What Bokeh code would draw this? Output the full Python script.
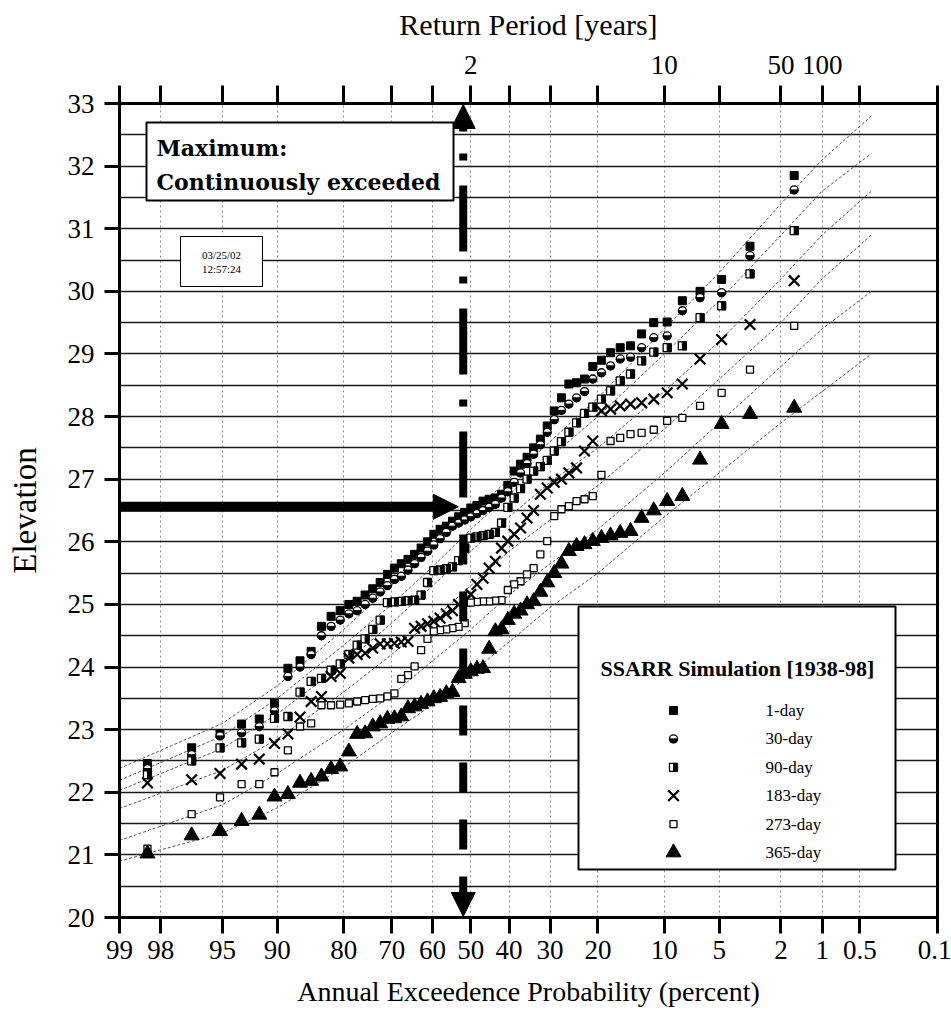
from statistics import NormalDist
import numpy as np
from bokeh.plotting import figure
from bokeh.models import (Range1d, LinearAxis, FixedTicker, BoxAnnotation, Label,
                          Arrow, NormalHead)
from bokeh.embed import file_html
from bokeh.resources import INLINE

ND = NormalDist()


def q(pct):
    """exceedance percent -> normal-probability axis coordinate"""
    return ND.inv_cdf(1.0 - pct / 100.0)


# ---------------- data ----------------
prob_ticks = [99, 98, 95, 90, 80, 70, 60, 50, 40, 30, 20, 10, 5, 2, 1, 0.5, 0.1]
prob_labels = ["99", "98", "95", "90", "80", "70", "60", "50", "40", "30",
               "20", "10", "5", "2", "1", "0.5", "0.1"]
return_period_pct = [50, 10, 2, 1]
return_period_labels = ["2", "10", "50", "100"]
elev_ticks = list(range(20, 34))

series_names = ["1-day", "30-day", "90-day", "183-day", "273-day", "365-day"]

# annual values ranked from largest (m=1) to smallest (m=61), 1938-98
day1 = [31.85, 30.72, 30.19, 30.00, 29.85, 29.51, 29.50, 29.32, 29.13, 29.10,
        29.02, 28.90, 28.80, 28.60, 28.54, 28.52, 28.30, 28.09, 27.85, 27.64,
        27.50, 27.35, 27.24, 27.13, 26.90, 26.76, 26.70, 26.68, 26.65, 26.58,
        26.54, 26.47, 26.40, 26.33, 26.25, 26.20, 26.12, 26.00, 25.90, 25.80,
        25.72, 25.65, 25.58, 25.48, 25.35, 25.25, 25.15, 25.05, 25.00, 24.90,
        24.81, 24.65, 24.25, 24.10, 23.98, 23.42, 23.17, 23.09, 22.93, 22.71, 22.46]
day30 = [31.62, 30.57, 29.98, 29.90, 29.69, 29.29, 29.26, 29.10, 28.95, 28.92,
         28.81, 28.70, 28.60, 28.40, 28.30, 28.20, 28.10, 27.95, 27.75, 27.55,
         27.40, 27.25, 27.10, 26.95, 26.80, 26.70, 26.60, 26.55, 26.50, 26.45,
         26.40, 26.35, 26.30, 26.25, 26.15, 26.05, 25.95, 25.85, 25.75, 25.65,
         25.55, 25.45, 25.40, 25.30, 25.20, 25.10, 25.00, 24.90, 24.85, 24.75,
         24.65, 24.50, 24.20, 24.00, 23.85, 23.30, 23.05, 22.95, 22.90, 22.60, 22.38]
day90 = [30.97, 30.28, 29.77, 29.58, 29.13, 29.10, 29.03, 28.89, 28.68, 28.57,
         28.41, 28.28, 28.15, 28.05, 27.90, 27.75, 27.60, 27.45, 27.30, 27.20,
         27.13, 27.00, 26.85, 26.70, 26.55, 26.30, 26.15, 26.12, 26.10, 26.08,
         26.06, 25.90, 25.70, 25.60, 25.57, 25.55, 25.54, 25.35, 25.15, 25.07,
         25.06, 25.05, 25.04, 25.03, 24.75, 24.60, 24.45, 24.35, 24.20, 24.05,
         23.95, 23.82, 23.77, 23.60, 23.21, 23.18, 22.85, 22.79, 22.71, 22.50, 22.28]
day183 = [30.17, 29.47, 29.23, 28.92, 28.52, 28.38, 28.28, 28.22, 28.20, 28.17,
          28.12, 28.09, 27.61, 27.45, 27.18, 27.10, 27.00, 26.95, 26.86, 26.76,
          26.50, 26.38, 26.22, 26.12, 26.01, 25.90, 25.69, 25.58, 25.42, 25.32,
          25.16, 25.05, 25.00, 24.90, 24.85, 24.78, 24.73, 24.69, 24.65, 24.62,
          24.41, 24.40, 24.38, 24.37, 24.37, 24.30, 24.22, 24.20, 24.14, 23.90,
          23.85, 23.53, 23.45, 23.20, 22.93, 22.78, 22.53, 22.45, 22.30, 22.20, 22.15]
day273 = [29.45, 28.75, 28.38, 28.17, 27.98, 27.93, 27.79, 27.74, 27.72, 27.66,
          27.61, 27.07, 26.73, 26.68, 26.65, 26.57, 26.52, 26.41, 26.01, 25.80,
          25.58, 25.48, 25.37, 25.32, 25.23, 25.07, 25.06, 25.05, 25.05, 25.04,
          25.03, 24.70, 24.64, 24.62, 24.60, 24.59, 24.57, 24.45, 24.27, 24.01,
          23.87, 23.81, 23.58, 23.53, 23.50, 23.49, 23.47, 23.45, 23.42, 23.40,
          23.39, 23.39, 23.10, 23.05, 22.67, 22.32, 22.13, 22.13, 21.92, 21.65, 21.10]
day365 = [28.14, 28.04, 27.88, 27.31, 26.73, 26.65, 26.50, 26.38, 26.17, 26.14,
          26.10, 26.06, 26.01, 25.96, 25.93, 25.85, 25.65, 25.50, 25.35, 25.20,
          25.05, 25.00, 24.90, 24.85, 24.75, 24.60, 24.57, 24.29, 23.98, 23.97,
          23.93, 23.89, 23.82, 23.60, 23.58, 23.52, 23.50, 23.45, 23.41, 23.37,
          23.34, 23.21, 23.18, 23.17, 23.10, 23.05, 22.94, 22.93, 22.65, 22.41,
          22.37, 22.25, 22.18, 22.15, 21.97, 21.93, 21.64, 21.54, 21.38, 21.31, 21.02]

# fitted frequency curves (exceedance %, elevation)
curve_pct = [99, 95, 90, 80, 70, 60, 50, 40, 30, 20, 10, 5, 2, 1, 0.4]
curve_1day = [22.38, 23.10, 23.70, 24.60, 25.30, 25.90, 26.45, 27.00, 27.60, 28.30, 29.40, 30.30, 31.40, 32.10, 32.80]
curve_30day = [22.19, 22.90, 23.50, 24.35, 25.00, 25.60, 26.20, 26.75, 27.35, 28.00, 29.00, 29.85, 30.90, 31.60, 32.20]
curve_90day = [22.03, 22.70, 23.25, 24.05, 24.70, 25.30, 25.85, 26.40, 26.95, 27.50, 28.40, 29.20, 30.20, 30.90, 31.60]
curve_183day = [21.74, 22.35, 22.85, 23.60, 24.20, 24.75, 25.30, 25.85, 26.35, 26.90, 27.80, 28.60, 29.50, 30.20, 30.90]
curve_273day = [21.23, 21.80, 22.30, 23.00, 23.55, 24.10, 24.60, 25.15, 25.65, 26.20, 27.10, 27.90, 28.80, 29.40, 30.00]
curve_365day = [20.90, 21.35, 21.75, 22.40, 22.95, 23.40, 23.90, 24.40, 24.95, 25.50, 26.40, 27.10, 27.90, 28.40, 29.00]

# annotation values
arrow_level = 26.56        # horizontal arrow elevation
median_pct = 52.0          # vertical dash-dot line
arrow_tip_pct = 53.3

# ---------------- figure ----------------
SERIF = "Liberation Serif"
W, H = 951, 1015
FL, FT, FR, FB = 119, 103, 937, 917   # frame edges in page px
X0, X1 = q(99), q(0.1)
p = figure(width=W, height=H, x_range=Range1d(X0, X1), y_range=Range1d(20, 33),
           output_backend="svg", toolbar_location=None,
           min_border_left=FL, min_border_right=W - FR, min_border_top=FT,
           min_border_bottom=H - FB)
p.background_fill_color = "white"
p.border_fill_color = "white"
p.outline_line_color = "black"
p.outline_line_width = 3

FW, FH = float(FR - FL), float(FB - FT)


def xp(px):  # page pixel -> data x (for decorations)
    return X0 + (px - FL) * (X1 - X0) / FW


def yp(py):  # page pixel -> data y (for decorations)
    return 33 - (py - FT) * 13.0 / FH


def dxpix(n):
    return n * (X1 - X0) / FW


x_tick_vals = [q(v) for v in prob_ticks]


def style_axis(ax):
    ax.axis_line_width = 3
    ax.major_tick_line_width = 3
    ax.major_tick_out = 16
    ax.major_tick_in = 0
    ax.minor_tick_line_color = None
    ax.major_label_text_font = SERIF
    ax.major_label_text_font_size = "27px"
    ax.major_label_text_color = "black"
    ax.axis_label_text_font = SERIF
    ax.axis_label_text_font_style = "normal"
    ax.axis_label_text_color = "black"


xa = p.xaxis[0]
style_axis(xa)
xa.ticker = FixedTicker(ticks=x_tick_vals)
xa.major_label_overrides = {t: l for t, l in zip(x_tick_vals, prob_labels)}
xa.major_label_standoff = 7
xa.axis_label = "Annual Exceedence Probability (percent)"
xa.axis_label_text_font_size = "28px"
xa.axis_label_standoff = 14

ya = p.yaxis[0]
style_axis(ya)
ya.ticker = FixedTicker(ticks=elev_ticks)
ya.major_tick_out = 15
ya.major_label_standoff = 10
ya.axis_label = "Elevation"
ya.axis_label_text_font_size = "33px"
ya.axis_label_standoff = 22

top_over = {t: "" for t in x_tick_vals}
for v, l in zip(return_period_pct, return_period_labels):
    top_over[q(v)] = l
ta = LinearAxis(ticker=FixedTicker(ticks=x_tick_vals), major_label_overrides=top_over,
                axis_label="Return Period [years]")
style_axis(ta)
ta.major_tick_out = 18
ta.major_label_standoff = 12
ta.axis_label_text_font_size = "30px"
ta.axis_label_standoff = 12
p.add_layout(ta, "above")

# grids
p.xgrid.ticker = FixedTicker(ticks=x_tick_vals)
p.xgrid.grid_line_color = "#8a8a8a"
p.xgrid.grid_line_width = 1
p.xgrid.grid_line_dash = "2 3"
p.ygrid.ticker = FixedTicker(ticks=[20 + 0.5 * i for i in range(1, 26)])
p.ygrid.grid_line_color = "#1a1a1a"
p.ygrid.grid_line_width = 1.4

# ---------------- fitted curves ----------------
cx = [q(v) for v in curve_pct]
for cv in [curve_1day, curve_30day, curve_90day, curve_183day, curve_273day, curve_365day]:
    p.line(cx, cv, line_color="#555555", line_width=1, line_dash="3 2")


# ---------------- markers ----------------
def draw(name, xs, ys, level="glyph"):
    xs = np.asarray(xs, dtype=float)
    ys = np.asarray(ys, dtype=float)
    if name == "1-day":
        r = [p.scatter(xs, ys, marker="square", size=8, fill_color="black", line_color="black")]
    elif name == "30-day":
        r = [p.scatter(xs, ys, marker="circle", size=8, fill_color="white", line_color="black", line_width=1.3),
             p.wedge(xs, ys, radius=4, radius_units="screen", start_angle=np.pi, end_angle=2 * np.pi,
                     fill_color="black", line_color="black")]
    elif name == "90-day":
        r = [p.scatter(xs, ys, marker="square", size=8, fill_color="white", line_color="black", line_width=1.3),
             p.rect(xs + dxpix(2), ys, width=4, height=8, width_units="screen", height_units="screen",
                    fill_color="black", line_color="black")]
    elif name == "183-day":
        r = [p.scatter(xs, ys, marker="x", size=15, line_color="black", line_width=2.2)]
    elif name == "273-day":
        r = [p.scatter(xs, ys, marker="square", size=7, fill_color="white", line_color="black", line_width=1.3)]
    else:
        r = [p.scatter(xs, ys, marker="triangle", size=15, fill_color="black", line_color="black")]
    for rr in r:
        rr.level = level


n = len(day1)
pos_x = [q(100.0 * m / (n + 1)) for m in range(1, n + 1)]
for name, vals in zip(series_names, [day1, day30, day90, day183, day273, day365]):
    draw(name, pos_x, vals)

# ---------------- vertical dash-dot line + arrows ----------------
xm = q(median_pct)
p.line([xm, xm], [yp(153), yp(497)], line_color="black", line_width=8, line_dash="7 25 66 25")
p.line([xm, xm], [yp(534), yp(893)], line_color="black", line_width=8, line_dash="30 27")
p.add_layout(Arrow(x_start=xm, y_start=yp(131), x_end=xm, y_end=yp(104),
                   end=NormalHead(size=24, fill_color="black", line_color="black"),
                   line_color="black", line_width=8))
p.add_layout(Arrow(x_start=xm, y_start=yp(890), x_end=xm, y_end=yp(916),
                   end=NormalHead(size=24, fill_color="black", line_color="black"),
                   line_color="black", line_width=8))
p.add_layout(Arrow(x_start=X0, y_start=arrow_level, x_end=q(arrow_tip_pct), y_end=arrow_level,
                   end=NormalHead(size=25, fill_color="black", line_color="black"),
                   line_color="black", line_width=10))

# ---------------- text boxes ----------------
p.add_layout(BoxAnnotation(left=xp(146), right=xp(453), top=yp(122), bottom=yp(200),
                           fill_color="white", fill_alpha=1, line_color="black", line_width=2,
                           line_alpha=1))
p.add_layout(Label(x=xp(156), y=yp(147), text="Maximum:", text_font="DejaVu Serif",
                   text_font_style="bold", text_font_size="22px", text_baseline="alphabetic",
                   text_color="black"))
p.add_layout(Label(x=xp(156), y=yp(181), text="Continuously exceeded", text_font="DejaVu Serif",
                   text_font_style="bold", text_font_size="22px", text_baseline="alphabetic",
                   text_color="black"))

p.add_layout(BoxAnnotation(left=xp(180), right=xp(262), top=yp(236), bottom=yp(286),
                           fill_color="white", fill_alpha=1, line_color="black", line_width=1,
                           line_alpha=1))
p.add_layout(Label(x=xp(221), y=yp(254), text="03/25/02", text_font=SERIF, text_color="black",
                   text_font_size="11px", text_align="center", text_baseline="middle"))
p.add_layout(Label(x=xp(221), y=yp(268), text="12:57:24", text_font=SERIF, text_color="black",
                   text_font_size="11px", text_align="center", text_baseline="middle"))

# legend
p.add_layout(BoxAnnotation(left=xp(578), right=xp(895), top=yp(606), bottom=yp(869),
                           fill_color="white", fill_alpha=1, line_color="black", line_width=2,
                           line_alpha=1))
p.add_layout(Label(x=xp(737), y=yp(668), text="SSARR Simulation [1938-98]", text_font=SERIF,
                   text_font_style="bold", text_font_size="22px", text_align="center",
                   text_baseline="alphabetic", text_color="black"))
for i, name in enumerate(series_names):
    ry = yp(710 + 28.4 * i)
    draw(name, [xp(673)], [ry], level="overlay")
    p.add_layout(Label(x=xp(765), y=ry, text=name, text_font=SERIF, text_font_size="17px",
                       text_baseline="middle", text_color="black"))

open("out.html", "w").write(file_html(p, INLINE))
